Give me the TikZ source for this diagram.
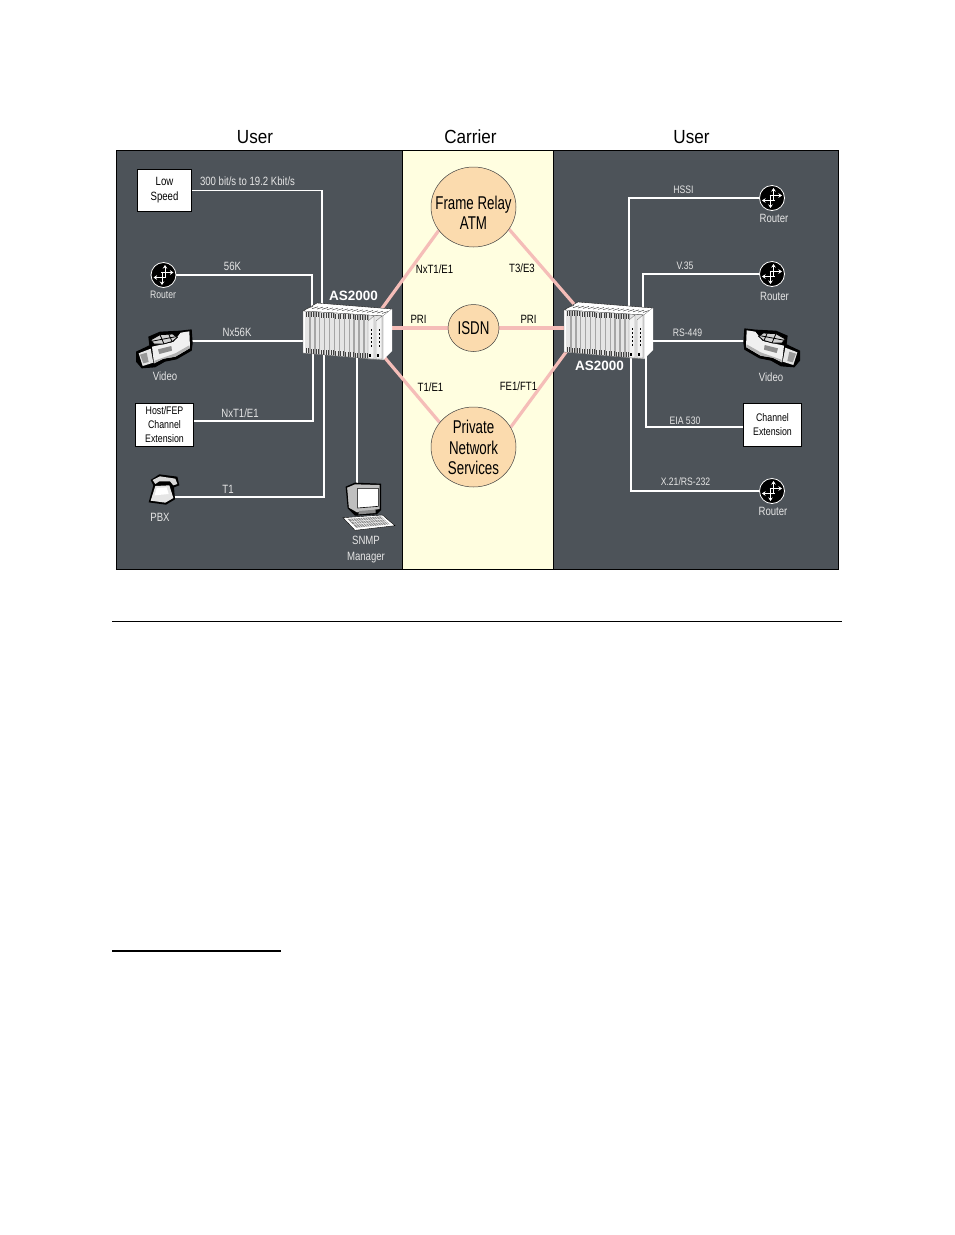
\documentclass[tikz,border=0pt]{standalone}
\usepackage{fontspec}
\setmainfont[FakeStretch=0.8]{Liberation Sans}
\newfontfamily\hdrfont[FakeStretch=0.9]{Liberation Sans}
\newfontfamily\cloudfont[FakeStretch=0.72]{Liberation Sans}
\newfontfamily\boldfont{Liberation Sans Bold}
\usetikzlibrary{arrows.meta,shapes.geometric}
\pgfdeclarelayer{panel}\pgfdeclarelayer{conn}
\pgfsetlayers{panel,conn,main}
\definecolor{slate}{HTML}{4D5359}
\definecolor{cream}{HTML}{FFFEE0}
\definecolor{pinkline}{HTML}{F5BDB8}
\definecolor{peach}{HTML}{FBDBAE}
\newcommand{\fs}[2]{\fontsize{#1}{#2}\selectfont}
\tikzset{
  x=1pt,y=-1pt,
  wline/.style={draw=white,line width=1.5pt},
  pline/.style={draw=pinkline,line width=3.2pt},
  lab/.style={text=white!90!black,inner sep=0pt,align=center,font=\fs{12}{15}},
  sm/.style={lab,font=\fs{10.8}{13}},
  dk/.style={text=black,inner sep=0pt,align=center,font=\fs{12}{15}},
  head/.style={text=black,inner sep=0pt,font=\hdrfont\fs{19}{20}},
  asl/.style={text=white,inner sep=0pt,font=\boldfont\fs{13.5}{15}},
  wbox/.style={draw=black,line width=.9pt,fill=white,inner sep=0pt,align=center,text=black,font=\fs{11}{14}},
  cloud/.style={ellipse,draw=black!75,line width=.5pt,fill=peach,inner sep=0pt},
  cloudtext/.style={inner sep=0pt,align=center,text=black,font=\cloudfont\fs{18.5}{20.5}},
  rout/.style={circle,draw=white,line width=.8pt,fill=black,minimum size=25pt,inner sep=0pt},
  rarrow/.style={draw=white,line width=.8pt,-{Stealth[length=3.5pt,width=4.5pt]}},
  pics/routerarrows/.style={code={
    \draw[rarrow] (1.5,2.5) -- (1.5,-10);
    \draw[rarrow] (-1.5,-2.5) -- (-1.5,10);
    \draw[rarrow] (-2.5,-2.5) -- (10,-2.5);
    \draw[rarrow] (2.5,2.5) -- (-10,2.5);
  }},
  pics/chassis/.style={code={
    \fill[white,draw=black,line width=.3pt] (-44,-22) -- (-30,-30) -- (45,-24) -- (36,-17) -- cycle;
    \foreach \i in {0,...,15}{\draw[black!70,line width=.5pt] ({-40+\i*5},{-24.6+\i*.34}) -- ++(6,-2);}
    \fill[white] (36,-17) -- (45,-24) -- (45,18) -- (36,27) -- cycle;
    \fill[black!10] (-44,-22) -- (36,-17) -- (36,27) -- (-44,20) -- cycle;
    \fill[white] (-44,-22) -- (-42,-22) -- (-42,20) -- (-44,20) -- cycle;
    \foreach \i in {0,...,12}{
      \pgfmathsetmacro{\xa}{-41+\i*4.9}
      \pgfmathsetmacro{\ya}{-21.5+(\xa+44)*.0625}
      \pgfmathsetmacro{\yb}{20+(\xa+44)*.0875}
      \fill[black!35] (\xa+3.3,\ya) rectangle (\xa+4.6,\yb);
      \fill[black!75] (\xa,\ya) rectangle (\xa+1,\ya+5);
      \fill[black!75] (\xa+2.4,\ya) rectangle (\xa+3.4,\ya+5);
      \fill[black!75] (\xa,\yb-5) rectangle (\xa+1,\yb);
      \fill[black!75] (\xa+2.4,\yb-5) rectangle (\xa+3.4,\yb);
    }
    \foreach \xs in {21,29}{
      \fill[black!5,draw=black!60,line width=.3pt] (\xs,-12) -- (\xs+6,-17) -- (\xs+6,26) -- (\xs,26) -- cycle;
      \foreach \d in {0,...,4}{\fill[black] (\xs+2.5,{-4+\d*4}) rectangle +(1.4,1.6);}
      \fill[black] (\xs+1,21) rectangle +(1.5,3);
    }
    \draw[black!60,line width=.3pt] (-44,-22) -- (36,-17) -- (36,27) -- (-44,20) -- cycle;
  }},
  pics/video/.style={code={
    \fill[black] (18,95) -- (58,76) -- (55,50) -- (90,35) -- (150,32) -- (185,28) -- (188,70) -- (185,92) -- (140,118) -- (105,125) -- (75,142) -- (35,145) -- (18,125) -- cycle;
    \fill[white!94!black] (66,80) -- (130,66) -- (152,38) -- (178,34) -- (180,84) -- (136,110) -- (100,116) -- (72,130) -- cycle;
    \fill[black!30] (74,122) -- (136,100) -- (178,76) -- (180,84) -- (136,110) -- (100,116) -- (72,130) -- cycle;
    \fill[white!90!black] (26,100) -- (62,86) -- (70,128) -- (38,138) -- cycle;
    \fill[black!40] (30,104) -- (50,98) -- (56,126) -- (40,130) -- cycle;
    \fill[white!82!black,draw=black,line width=.8pt] (62,60) -- (90,44) -- (128,42) -- (142,52) -- (128,64) -- (100,72) -- (72,72) -- cycle;
    \draw[black,line width=.8pt] (64,64) -- (138,50) (90,44) -- (102,72) (116,42) -- (126,64);
    \fill[black!45] (84,88) -- (124,78) -- (126,92) -- (88,102) -- cycle;
  }},
  pics/phoneset/.style={code={
    \fill[black] (32,30) -- (58,13) -- (112,20) -- (118,46) -- (102,52) -- (105,88) -- (78,104) -- (26,97) -- (40,46) -- cycle;
    \fill[white!85!black] (38,30) -- (60,19) -- (106,26) -- (112,42) -- (100,46) -- (90,34) -- (58,34) -- (46,42) -- cycle;
    \fill[white!90!black] (46,48) -- (88,46) -- (100,84) -- (76,98) -- (32,92) -- cycle;
    \fill[white] (50,54) -- (80,52) -- (86,72) -- (44,76) -- cycle;
  }},
  pics/workstation/.style={code={
    \fill[black] (32,35) -- (60,23) -- (138,26) -- (138,105) -- (125,118) -- (60,122) -- (38,100) -- cycle;
    \fill[black!25] (37,38) -- (60,28) -- (134,30) -- (134,102) -- (66,112) -- (42,98) -- cycle;
    \fill[white!75!black] (37,38) -- (58,36) -- (60,105) -- (42,98) -- cycle;
    \fill[white,draw=black,line width=.6pt] (68,40) -- (130,40) -- (130,94) -- (68,99) -- cycle;
    \fill[black!45] (72,108) -- (122,104) -- (122,114) -- (70,118) -- cycle;
    \fill[white,draw=black,line width=.4pt] (24,128) -- (142,120) -- (180,152) -- (60,166) -- cycle;
    \fill[black!45] (38,132) -- (138,124) -- (164,148) -- (64,158) -- cycle;
    \foreach \k in {0,...,14}{\draw[white,line width=.4pt] ({46+\k*7},{131-\k*.5}) -- ({72+\k*7},{158-\k*.6});}
    \draw[white,line width=.4pt] (48,140) -- (150,132) (54,148) -- (158,140);
  }}
}
\begin{document}
\begin{tikzpicture}
\useasboundingbox (0,0) rectangle (954,1235);
% panels
\begin{pgfonlayer}{panel}
  \fill[white] (0,0) rectangle (954,1235);
  \fill[slate,draw=black,line width=.8pt] (116.5,150.5) rectangle (402.5,569.5);
  \fill[cream,draw=black,line width=.8pt] (402.5,150.5) rectangle (553.5,569.5);
  \fill[slate,draw=black,line width=.8pt] (553.5,150.5) rectangle (838.5,569.5);
\end{pgfonlayer}
\draw[black,line width=.8pt] (112,621) -- (842,621);
\draw[black,line width=1.6pt] (112,951) -- (281,951);
% headings
\node[head] (hu1) at (255,137) {User};
\node[head] (hc) at (470.5,137) {Carrier};
\node[head] (hu2) at (691.5,137) {User};
% carrier clouds
\node[cloud,minimum width=85pt,minimum height=80pt] (fr) at (473.5,207) {};
\node[cloudtext] (frt) at (473.5,213) {Frame Relay\\ATM};
\node[cloud,minimum width=51pt,minimum height=47pt] (isdn) at (473.5,328) {};
\node[cloudtext] (isdnt) at (473.5,328) {ISDN};
\node[cloud,minimum width=85pt,minimum height=80pt] (pn) at (473.5,447) {};
\node[cloudtext] (pnt) at (473.5,447.5) {Private\\Network\\Services};
% boxes
\node[wbox,font=\fs{12}{15},minimum width=54pt,minimum height=42pt] (low) at (164.5,190.5) {Low\\Speed};
\node[wbox,minimum width=58pt,minimum height=43pt] (host) at (164.5,424.5) {Host/FEP\\Channel\\Extension};
\node[wbox,minimum width=58pt,minimum height=43pt] (chan) at (772.5,424.5) {Channel\\Extension};
% routers
\node[rout] (rl) at (163.5,275) {};
\pic at (163.5,275) {routerarrows};
\node[rout] (r1) at (772,198) {};
\pic at (772,198) {routerarrows};
\node[rout] (r2) at (772,274) {};
\pic at (772,274) {routerarrows};
\node[rout] (r3) at (772,491) {};
\pic at (772,491) {routerarrows};
% chassis
\pic at (347,333) {chassis};
\pic at (608,332) {chassis};
\node[asl] (asl1) at (353.5,296) {AS2000};
\node[asl] (asl2) at (599.5,366) {AS2000};
% end devices
\pic[scale=1/3] at (130,320) {video};
\pic[xscale=-1/3,yscale=1/3] at (806,319) {video};
\pic[scale=1/3] at (140,470) {phoneset};
\pic[scale=1/3] at (335,475) {workstation};
% connection points
\coordinate (l1) at (322,325);
\coordinate (l2) at (312,325);
\coordinate (l3) at (320,341);
\coordinate (l4) at (313,345);
\coordinate (l5) at (324,345);
\coordinate (l6) at (357,345);
\coordinate (lfr) at (379,312.5);
\coordinate (lis) at (380,328);
\coordinate (lpn) at (380,352);
\coordinate (vidl) at (185,341);
\coordinate (vidr) at (751,341);
\coordinate (ph) at (165,497);
\coordinate (ws) at (357,495);
\coordinate (hostp) at (193,421);
\coordinate (chanp) at (743,427);
\coordinate (c1) at (629,325);
\coordinate (c2) at (643,325);
\coordinate (c3) at (630,341);
\coordinate (c4) at (646,345);
\coordinate (c5) at (631,345);
\coordinate (cfr) at (580,311);
\coordinate (cis) at (575,328);
\coordinate (cpn) at (569,348);
% connectors
\begin{pgfonlayer}{conn}
  \draw[wline] (low.east) -| (l1);
  \draw[wline] (rl.east) -| (l2);
  \draw[wline] (vidl) -- (l3);
  \draw[wline] (hostp) -| (l4);
  \draw[wline] (ph) -| (l5);
  \draw[wline] (ws) -- (l6);
  \draw[wline] (r1.west) -| (c1);
  \draw[wline] (r2.west) -| (c2);
  \draw[wline] (vidr) -- (c3);
  \draw[wline] (chanp) -| (c4);
  \draw[wline] (r3.west) -| (c5);
  \draw[pline] (lfr) -- (fr.214);
  \draw[pline] (lis) -- (isdn.west);
  \draw[pline] (lpn) -- (pn.144);
  \draw[pline] (cfr) -- (fr.328);
  \draw[pline] (cis) -- (isdn.east);
  \draw[pline] (cpn) -- (pn.28);
\end{pgfonlayer}
% labels left
\node[lab] (t1) at (247.5,181) {300 bit/s to 19.2 Kbit/s};
\node[lab] (t2) at (232.5,266) {56K};
\node[lab] (t3) at (237,332) {Nx56K};
\node[lab] (t4) at (240,413.5) {NxT1/E1};
\node[lab] (t5) at (228,489) {T1};
\node[sm] (t6) at (163,295) {Router};
\node[lab] (t7) at (165,376) {Video};
\node[lab] (t8) at (160,517.5) {PBX};
\node[lab,font=\fs{12}{16}] (t9) at (366,550) {SNMP\\Manager};
% labels carrier
\node[dk] (t10) at (434.5,269) {NxT1/E1};
\node[dk] (t11) at (522,268.5) {T3/E3};
\node[dk] (t12) at (418.5,319.5) {PRI};
\node[dk] (t13) at (528.5,319.5) {PRI};
\node[dk] (t14) at (430.5,387) {T1/E1};
\node[dk] (t15) at (518.5,386.5) {FE1/FT1};
% labels right
\node[sm] (t16) at (683.5,190) {HSSI};
\node[sm] (t17) at (685,266) {V.35};
\node[sm] (t18) at (687.5,333) {RS-449};
\node[sm] (t19) at (685,420.5) {EIA 530};
\node[sm] (t20) at (685.5,482) {X.21/RS-232};
\node[lab] (t21) at (774,218) {Router};
\node[lab] (t22) at (774.5,296) {Router};
\node[lab] (t23) at (771,377) {Video};
\node[lab] (t24) at (773,511) {Router};
\end{tikzpicture}
\end{document}
